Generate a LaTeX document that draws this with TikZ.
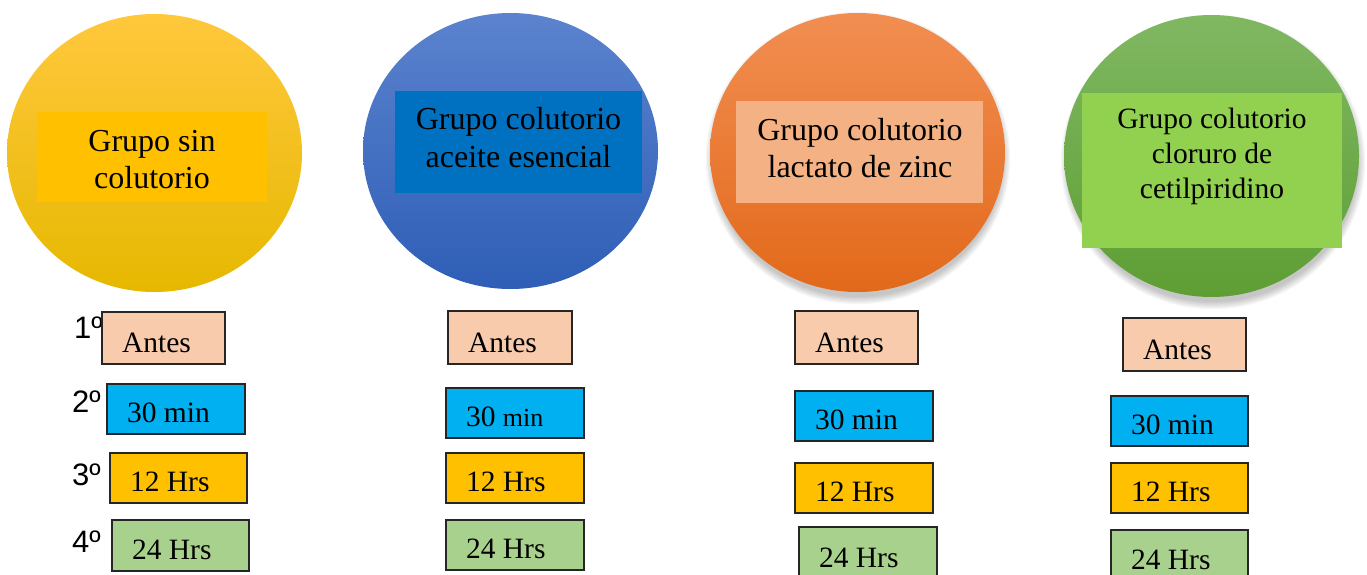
\documentclass[tikz,border=0pt]{standalone}
\usepackage{fontspec}
\setmainfont{Liberation Serif}
\newfontfamily\arialf{Liberation Sans}
\usetikzlibrary{shapes.geometric}
\definecolor{yTop}{HTML}{FFC83D}\definecolor{yMid}{HTML}{FFC000}\definecolor{yBot}{HTML}{E6B800}\definecolor{yRect}{HTML}{FFC000}
\definecolor{bTop}{HTML}{5B83CE}\definecolor{bMid}{HTML}{4472C4}\definecolor{bBot}{HTML}{2E5EB6}\definecolor{bRect}{HTML}{0070C0}
\definecolor{oTop}{HTML}{F28E52}\definecolor{oMid}{HTML}{ED7D31}\definecolor{oBot}{HTML}{E2691A}\definecolor{oRect}{HTML}{F4B183}
\definecolor{gTop}{HTML}{80B862}\definecolor{gMid}{HTML}{70AD47}\definecolor{gBot}{HTML}{5E9E34}\definecolor{gRect}{HTML}{92D050}
\definecolor{cAntes}{HTML}{F8CBAD}\definecolor{cMin}{HTML}{00B0F0}\definecolor{cDoce}{HTML}{FFC000}\definecolor{cVein}{HTML}{A9D18E}
\tikzset{
  circ/.style={ellipse, inner sep=0pt, draw=none},
  inrect/.style={rectangle, inner sep=0pt, draw=none},
  ctext/.style={align=center, font=\fontsize{32}{37}\selectfont, inner sep=0pt},
  tb/.style={rectangle, draw=black!85, line width=1.3pt, inner sep=0pt},
  lbl/.style={font=\fontsize{29.5}{34}\selectfont, inner sep=0pt},
  ordl/.style={font=\arialf\fontsize{31}{34}\selectfont, inner sep=0pt, anchor=base west},
}
\newcommand\mybox[7]{%
  \node[tb, fill=#6, minimum width={(#4-#2)*1pt}, minimum height={(#5-#3)*1pt}] (#1) at ({(#2+#4)/2},{(#3+#5)/2}) {};
  \node[lbl, anchor=base west] (#1t) at ([shift={(20.5pt,12pt)}]#1.south west) {#7};}
\newcommand\mycirc[8]{%
  \node[circ, top color=#6, middle color=#7, bottom color=#8, minimum width={2*#4*1pt}, minimum height={2*#5*1pt}] (#1) at (#2,#3) {};}
\begin{document}
\begin{tikzpicture}[x=1pt,y=-1pt]
\useasboundingbox (0,0) rectangle (1367,575);
\clip (0,0) rectangle (1367,575);
% soft shadows
\foreach \k in {0,...,6}{
  \fill[black, opacity=0.035] (858,158) ellipse [x radius={145+\k*1.2}, y radius={139+\k*1.2}];
  \fill[black, opacity=0.035] (1213,162) ellipse [x radius={145+\k*1.2}, y radius={140+\k*1.2}];
}
% circles
\mycirc{c1}{154.5}{153}{147.5}{139}{yTop}{yMid}{yBot}
\mycirc{c2}{510.5}{151}{147.5}{138}{bTop}{bMid}{bBot}
\mycirc{c3}{857.5}{152.5}{147.5}{139.5}{oTop}{oMid}{oBot}
\mycirc{c4}{1211.5}{156}{147.5}{141}{gTop}{gMid}{gBot}
% inner rectangles
\node[inrect, fill=yRect, minimum width=230pt, minimum height=90pt] (r1) at (152,157) {};
\node[inrect, fill=bRect, minimum width=247pt, minimum height=102pt] (r2) at (518.5,142) {};
\node[inrect, fill=oRect, minimum width=247pt, minimum height=102pt] (r3) at (859.5,152) {};
\node[inrect, fill=gRect, minimum width=260pt, minimum height=155pt] (r4) at (1212,170.5) {};
% texts (base anchor = last line's baseline)
\node[ctext, anchor=base] (t1) at (152,188) {Grupo sin\\colutorio};
\node[ctext, anchor=base] (t2) at (518.5,167) {Grupo colutorio\\aceite esencial};
\node[ctext, anchor=base] (t3) at (860,177) {Grupo colutorio\\lactato de zinc};
\node[ctext, anchor=base, font=\fontsize{29.5}{35}\selectfont] (t4) at (1212,198) {Grupo colutorio\\cloruro de\\cetilpiridino};
% ordinals
\node[ordl] (o1) at (74,338) {1º};
\node[ordl] (o2) at (72,412) {2º};
\node[ordl] (o3) at (72,485) {3º};
\node[ordl] (o4) at (72,552) {4º};
% boxes column 1
\mybox{a1}{102}{312}{225}{364}{cAntes}{Antes}
\mybox{m1}{107}{384}{245}{434}{cMin}{30 min}
\mybox{d1}{110}{453}{247}{503}{cDoce}{12 Hrs}
\mybox{v1}{112}{520}{249}{571}{cVein}{24 Hrs}
% column 2
\mybox{a2}{448}{311}{572}{364}{cAntes}{Antes}
\mybox{m2}{446}{388}{584}{438}{cMin}{30 {\fontsize{26}{30}\selectfont min}}
\mybox{d2}{446}{453}{584}{503}{cDoce}{12 Hrs}
\mybox{v2}{446}{520}{584}{570}{cVein}{24 Hrs}
% column 3
\mybox{a3}{795}{311}{918}{364}{cAntes}{Antes}
\mybox{m3}{795}{391}{933}{441}{cMin}{30 min}
\mybox{d3}{795}{463}{933}{513}{cDoce}{12 Hrs}
\mybox{v3}{799}{527}{937}{579}{cVein}{24 Hrs}
% column 4
\mybox{a4}{1123}{318}{1246}{371}{cAntes}{Antes}
\mybox{m4}{1111}{396}{1248}{446}{cMin}{30 min}
\mybox{d4}{1111}{463}{1248}{513}{cDoce}{12 Hrs}
\mybox{v4}{1111}{530}{1248}{581}{cVein}{24 Hrs}
\end{tikzpicture}
\end{document}
